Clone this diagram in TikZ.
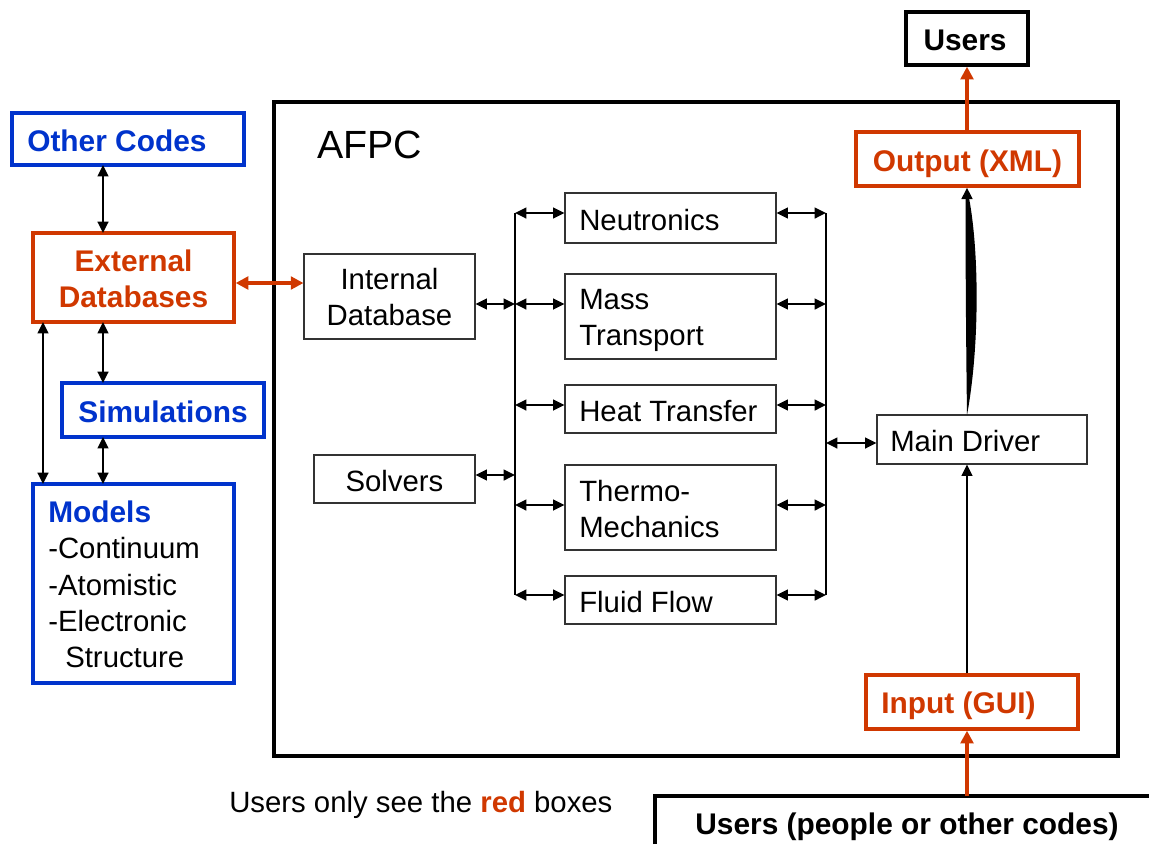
\documentclass[tikz,border=0pt]{standalone}
\usepackage{fontspec}
\setmainfont{Liberation Sans}
\usetikzlibrary{arrows.meta,fit}
\definecolor{cblue}{RGB}{0,51,204}
\definecolor{cred}{RGB}{208,56,0}
\begin{document}
\begin{tikzpicture}[x=0.75pt,y=-0.75pt,
  thinbox/.style={draw=black!80, line width=0.8pt, inner sep=0pt},
  bluebox/.style={draw=cblue, line width=2.5pt, inner sep=0pt},
  redbox/.style={draw=cred, line width=2.5pt, inner sep=0pt},
  blackbox/.style={draw=black, line width=2.5pt, inner sep=0pt},
  txt/.style={font=\fontsize{22}{27}\selectfont, inner sep=0pt, anchor=base west},
  ctxt/.style={font=\fontsize{22}{27}\selectfont, inner sep=0pt, anchor=base},
  btxt/.style={font=\fontsize{22.4}{27}\selectfont\bfseries, inner sep=0pt, anchor=base west},
  bctxt/.style={font=\fontsize{22.4}{27}\selectfont\bfseries, inner sep=0pt, anchor=base},
  tip/.tip={Triangle[length=8.5pt,width=8pt]},
  conn/.style={line width=1.7pt, tip-tip},
  oneway/.style={line width=1.7pt, -tip},
  bus/.style={line width=0.9pt},
  redtip/.tip={Triangle[length=9.5pt,width=9.5pt]},
  redconn/.style={draw=cred, line width=2.6pt, -redtip},
  reddbl/.style={draw=cred, line width=2.6pt, redtip-redtip},
]
\useasboundingbox (0,0) rectangle (1149,844);

% main frame
\node[blackbox, fit={(274,102) (1118,756)}] (afpc) {};
\node[font=\fontsize{29.5}{34}\selectfont, inner sep=0pt, anchor=base west] (afpclbl) at (317,158) {AFPC};

% left side boxes
\node[bluebox, fit={(12,113) (244,165)}] (other) {};
\node[btxt, text=cblue] (otherlbl) at (27,151) {Other Codes};
\node[redbox, fit={(33,233) (234,322)}] (ext) {};
\node[bctxt, text=cred] (extlbl1) at (133.5,271) {External};
\node[bctxt, text=cred] (extlbl2) at (133.5,307) {Databases};
\node[bluebox, fit={(62,383) (264,437)}] (sim) {};
\node[bctxt, text=cblue] (simlbl) at (163,422) {Simulations};
\node[bluebox, fit={(33,484) (234,683)}] (models) {};
\node[btxt, text=cblue] (m0) at (48,522) {Models};
\node[txt] (m1) at (48,558) {-Continuum};
\node[txt] (m2) at (48,595) {-Atomistic};
\node[txt] (m3) at (48,631) {-Electronic};
\node[txt] (m4) at (65,667) {Structure};

% left connectors
\coordinate (a1) at (103,165); \coordinate (a2) at (103,233);
\draw[conn] (a1) -- (a2);
\coordinate (b1) at (103,322); \coordinate (b2) at (103,383);
\draw[conn] (b1) -- (b2);
\coordinate (c1) at (103,437); \coordinate (c2) at (103,484);
\draw[conn] (c1) -- (c2);
\coordinate (d1) at (43,322); \coordinate (d2) at (43,484);
\draw[conn] (d1) -- (d2);

% internal
\node[thinbox, fit={(304,254) (475,339)}] (idb) {};
\node[ctxt] (idbl1) at (389.5,289) {Internal};
\node[ctxt] (idbl2) at (389.5,325) {Database};
\node[thinbox, fit={(314,455) (475,503)}] (solv) {};
\node[ctxt] (solvl) at (394.5,491) {Solvers};
\draw[reddbl] (ext.east |- 0,283) -- (idb.west |- 0,283);

% buses
\coordinate (lbt) at (515,213); \coordinate (lbb) at (515,595);
\coordinate (rbt) at (826,213); \coordinate (rbb) at (826,595);
\draw[bus] (lbt) -- (lbb);
\draw[bus] (rbt) -- (rbb);
\draw[conn] (idb.east |- 0,304) -- (515,304);
\draw[conn] (solv.east |- 0,475) -- (515,475);

% modules
\node[thinbox, fit={(565,193) (776,243)}] (neu) {};
\node[txt] (neul) at (579,230) {Neutronics};
\node[thinbox, fit={(565,274) (776,359)}] (mass) {};
\node[txt] (massl1) at (579,309) {Mass};
\node[txt] (massl2) at (579,345) {Transport};
\node[thinbox, fit={(565,385) (776,433)}] (heat) {};
\node[txt] (heatl) at (579,421) {Heat Transfer};
\node[thinbox, fit={(565,465) (776,550)}] (thermo) {};
\node[txt] (thermol1) at (579,501) {Thermo-};
\node[txt] (thermol2) at (579,537) {Mechanics};
\node[thinbox, fit={(565,576) (776,624)}] (fluid) {};
\node[txt] (fluidl) at (579,612) {Fluid Flow};

\foreach \n/\yy in {neu/213, mass/304, heat/405, thermo/505, fluid/595}{
  \draw[conn] (515,\yy) -- (\n.west |- 0,\yy);
  \draw[conn] (\n.east |- 0,\yy) -- (826,\yy);
}

% right side
\node[thinbox, fit={(877,415) (1087,464)}] (drv) {};
\node[txt] (drvl) at (890,451) {Main Driver};
\draw[conn] (826,443) -- (drv.west |- 0,443);

\node[redbox, fit={(856,132) (1079,186)}] (out) {};
\node[bctxt, text=cred] (outl) at (967.5,171) {Output (XML)};
\node[blackbox, fit={(906,12) (1028,65)}] (utop) {};
\node[bctxt] (utopl) at (965,50) {Users};
\draw[redconn] (out.north -| 967,0) -- (utop.south -| 967,0);

% thick lens-shaped arrow main driver -> output
\coordinate (lensb) at (967,415);
\coordinate (lenst) at (967,198);
\fill (lensb) .. controls (980,345) and (979,250) .. (969,198) -- (965.5,198) .. controls (965.5,260) and (966,340) .. (lensb) -- cycle;
\draw[oneway] (lenst) -- (out.south -| 967,0);

\node[redbox, fit={(866,675) (1078,729)}] (inp) {};
\node[bctxt, text=cred] (inpl) at (958.5,713) {Input (GUI)};
\draw[oneway] (inp.north -| 967,0) -- (drv.south -| 967,0);

% bottom users (clipped box)
\coordinate (ubl) at (655,844);
\coordinate (ubtl) at (655,796);
\coordinate (ubtr) at (1149,796);
\draw[line width=2.5pt] (ubl) -- (ubtl) -- (ubtr);
\node[bctxt] (ubotl) at (907,834) {Users (people or other codes)};
\draw[redconn] (967,796) -- (inp.south -| 967,0);

\node[txt] (note) at (229,812) {Users only see the \textcolor{cred}{\bfseries red} boxes};
\end{tikzpicture}
\end{document}
